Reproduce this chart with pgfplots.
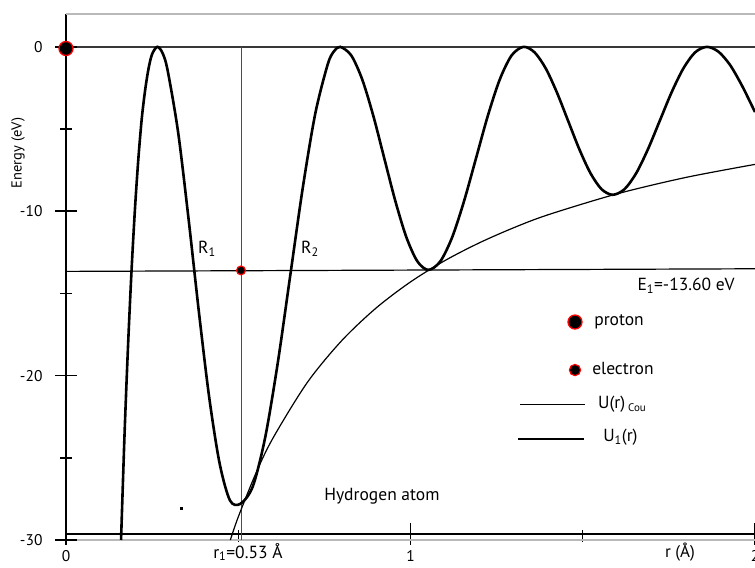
\documentclass[border=0pt]{standalone}
\usepackage{pgfplots}
\pgfplotsset{compat=1.18}
\usepackage{fontspec}
\setmainfont{PT Sans}
\begin{document}
\begin{tikzpicture}
\begin{axis}[
  scale only axis, width=689pt, height=526pt,
  xmin=0, xmax=2, ymin=-30, ymax=2,
  clip=false,
  axis lines*=left,
  x axis line style={gray!55, line width=1.2pt},
  y axis line style={black, line width=1.8pt},
  tick align=center,
  ytick pos=left, xtick pos=bottom,
  major tick length=22pt, minor tick length=12pt,
  every tick/.style={black, line width=1.4pt},
  ytick={-30,-20,-10,0}, yticklabels={-30,-20,-10,0},
  ytick style={draw=none},
  xtick={0,1,2}, xticklabels={0,1,2},
  minor xtick={0.5,1.5},
  major x tick style={yshift=6pt},
  minor x tick style={yshift=4pt},
  tick label style={font=\fontsize{15.5}{18}\selectfont},
  yticklabel style={xshift=-9pt},
  xticklabel style={yshift=4pt},
  ylabel={Energy (eV)},
  every axis y label/.style={at={(axis description cs:-0.0697,0.7357)}, rotate=90, anchor=center, font=\fontsize{14.5}{17}\selectfont},
  xlabel={r (Å)},
  every axis x label/.style={at={(axis description cs:0.891,-0.0235)}, anchor=center, font=\fontsize{17}{20}\selectfont},
]
\coordinate (sw) at (rel axis cs:0,0);
\coordinate (ne) at (rel axis cs:1,1);
% y-axis tick marks crossing the axis line
\addplot[only marks, mark=-, mark size=11pt, mark options={line width=1.5pt, draw=black}] coordinates {(0,-30) (0,-20) (0,-10) (0,0)};
\addplot[only marks, mark=-, mark size=6pt, mark options={line width=1.5pt, draw=black}] coordinates {(0,-25) (0,-15) (0,-5)};
% frame and reference lines
\addplot[gray!55, line width=1.4pt] coordinates {(0,2) (2,2)};
\addplot[black, line width=1.4pt] coordinates {(0,-29.64) (2,-29.64)};
\addplot[black!78, line width=1.7pt] coordinates {(0,0) (2,0)};
\addplot[black, line width=1.2pt] coordinates {(0,-13.66) (2,-13.50)};
\addplot[black!70, line width=0.8pt] coordinates {(0.508,0) (0.508,-30)};
% Coulomb potential
\addplot[black, line width=1.2pt, smooth] coordinates {
 (0.477,-30.0) (0.50,-28.6) (0.55,-26.0) (0.60,-23.83) (0.70,-20.43) (0.80,-17.88)
 (0.90,-15.89) (1.00,-14.30) (1.10,-13.00) (1.20,-11.92) (1.30,-11.00) (1.40,-10.21)
 (1.60,-8.94) (1.80,-7.94) (2.00,-7.15)};
% U1(r)
\addplot[black, line width=2.6pt, smooth] coordinates {
 (0.1598,-30.0) (0.17,-23.53) (0.18,-18.23) (0.19,-13.71) (0.20,-9.92) (0.21,-6.82)
 (0.22,-4.35) (0.23,-2.59) (0.24,-1.28) (0.25,-0.44) (0.265,0)
 (0.2801,-0.37) (0.2951,-1.44) (0.3255,-5.20) (0.3554,-10.40) (0.3855,-16.08)
 (0.4156,-21.31) (0.4458,-25.33) (0.4759,-27.59) (0.506,-27.80)
 (0.54225,-26.74) (0.5785,-23.73) (0.61475,-19.22) (0.651,-13.90) (0.68725,-8.58)
 (0.7235,-4.07) (0.75975,-1.06) (0.7779,-0.27) (0.796,0)
 (0.828,-0.52) (0.860,-1.99) (0.892,-4.19) (0.924,-6.79) (0.956,-9.38) (0.988,-11.58)
 (1.020,-13.05) (1.052,-13.57)
 (1.0865,-13.05) (1.121,-11.58) (1.1555,-9.38) (1.190,-6.79) (1.2245,-4.19)
 (1.259,-1.99) (1.2935,-0.52) (1.328,0)
 (1.3604,-0.34) (1.3928,-1.32) (1.4251,-2.78) (1.4575,-4.50) (1.4899,-6.22)
 (1.5223,-7.68) (1.5546,-8.66) (1.587,-9.00)
 (1.6211,-8.66) (1.6553,-7.68) (1.6894,-6.22) (1.7235,-4.50) (1.7576,-2.78)
 (1.7918,-1.32) (1.8259,-0.34) (1.860,0)
 (1.89375,-0.29) (1.9275,-1.10) (1.96125,-2.32) (1.995,-3.75) (2.0,-3.97)};
% legend lines
\addplot[black, line width=1.1pt] coordinates {(1.318,-21.73) (1.507,-21.73)};
\addplot[black, line width=2.0pt] coordinates {(1.312,-23.86) (1.504,-23.86)};
% stray dot
\addplot[only marks, mark=square*, mark size=1.3pt, black] coordinates {(0.334,-28.06)};
% protons
\addplot[only marks, mark=*, mark size=7pt, mark options={fill=black, draw=red, line width=1.3pt}] coordinates {(0,-0.1) (1.4775,-16.74)};
% electrons
\addplot[only marks, mark=*, mark size=4.4pt, mark options={fill=black, draw=red, line width=1.2pt}] coordinates {(0.508,-13.6)};
\addplot[only marks, mark=*, mark size=5.6pt, mark options={fill=black, draw=red, line width=1.2pt}] coordinates {(1.4775,-19.66)};
% texts
\begin{scope}[every node/.style={font=\fontsize{17.5}{21}\selectfont, inner sep=0pt}]
\node at (axis cs:0.409,-12.3) {R\textsubscript{1}};
\node at (axis cs:0.708,-12.3) {R\textsubscript{2}};
\node at (axis cs:1.80,-14.55) {E\textsubscript{1}=-13.60 eV};
\node[anchor=west] at (axis cs:1.533,-16.74) {proton};
\node[anchor=west] at (axis cs:1.527,-19.54) {electron};
\node[anchor=west] at (axis cs:1.544,-21.75) {U(r)\,\textsubscript{\fontsize{11}{13}\selectfont Cou}};
\node[anchor=west] at (axis cs:1.559,-23.74) {U\textsubscript{1}(r)};
\node at (axis cs:0.917,-27.33) {Hydrogen atom};
\node at (axis cs:0.528,-30.73) {r\textsubscript{1}=0.53 Å};
\end{scope}
\end{axis}
\pgfresetboundingbox
\path[use as bounding box] ([shift={(-66pt,-28pt)}]sw) rectangle ([shift={(0pt,14pt)}]ne);
\end{tikzpicture}
\end{document}
